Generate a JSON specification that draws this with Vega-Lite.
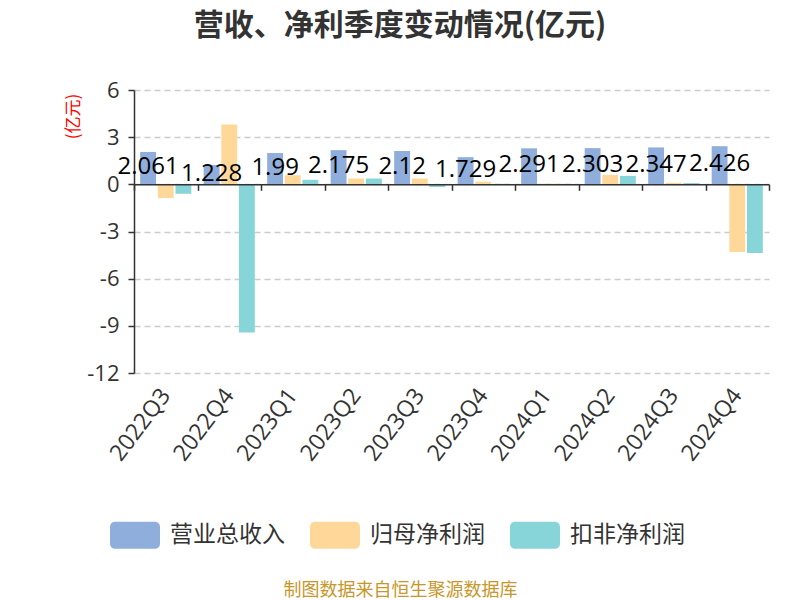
{
  "$schema": "https://vega.github.io/schema/vega-lite/v6.json",
  "width": 635,
  "height": 283,
  "autosize": {"type": "none"},
  "padding": {"left": 134, "top": 90, "right": 31, "bottom": 227},
  "background": "white",
  "config": {"view": {"stroke": null}},
  "title": {
    "text": "营收、净利季度变动情况(亿元)",
    "font": "Noto Sans CJK SC",
    "fontSize": 30,
    "fontWeight": "bold",
    "color": "#333333",
    "anchor": "middle",
    "frame": "group",
    "dx": -51.5,
    "offset": 38
  },
  "data": {
    "values": [
      {"quarter": "2022Q3", "series": "营业总收入", "value": 2.061},
      {"quarter": "2022Q4", "series": "营业总收入", "value": 1.228},
      {"quarter": "2023Q1", "series": "营业总收入", "value": 1.99},
      {"quarter": "2023Q2", "series": "营业总收入", "value": 2.175},
      {"quarter": "2023Q3", "series": "营业总收入", "value": 2.12},
      {"quarter": "2023Q4", "series": "营业总收入", "value": 1.729},
      {"quarter": "2024Q1", "series": "营业总收入", "value": 2.291},
      {"quarter": "2024Q2", "series": "营业总收入", "value": 2.303},
      {"quarter": "2024Q3", "series": "营业总收入", "value": 2.347},
      {"quarter": "2024Q4", "series": "营业总收入", "value": 2.426},
      {"quarter": "2022Q3", "series": "归母净利润", "value": -0.87},
      {"quarter": "2022Q4", "series": "归母净利润", "value": 3.81},
      {"quarter": "2023Q1", "series": "归母净利润", "value": 0.58},
      {"quarter": "2023Q2", "series": "归母净利润", "value": 0.37},
      {"quarter": "2023Q3", "series": "归母净利润", "value": 0.37},
      {"quarter": "2023Q4", "series": "归母净利润", "value": 0.17},
      {"quarter": "2024Q1", "series": "归母净利润", "value": 0.04},
      {"quarter": "2024Q2", "series": "归母净利润", "value": 0.6},
      {"quarter": "2024Q3", "series": "归母净利润", "value": 0.1},
      {"quarter": "2024Q4", "series": "归母净利润", "value": -4.31},
      {"quarter": "2022Q3", "series": "扣非净利润", "value": -0.6},
      {"quarter": "2022Q4", "series": "扣非净利润", "value": -9.42},
      {"quarter": "2023Q1", "series": "扣非净利润", "value": 0.29},
      {"quarter": "2023Q2", "series": "扣非净利润", "value": 0.37},
      {"quarter": "2023Q3", "series": "扣非净利润", "value": -0.17},
      {"quarter": "2023Q4", "series": "扣非净利润", "value": 0.03},
      {"quarter": "2024Q1", "series": "扣非净利润", "value": 0.03},
      {"quarter": "2024Q2", "series": "扣非净利润", "value": 0.54},
      {"quarter": "2024Q3", "series": "扣非净利润", "value": 0.08},
      {"quarter": "2024Q4", "series": "扣非净利润", "value": -4.37}
    ]
  },
  "resolve": {"scale": {"x": "shared", "y": "shared", "xOffset": "shared"}, "axis": {"x": "independent", "y": "independent"}},
  "layer": [
    {
      "mark": {"type": "bar"},
      "encoding": {
        "x": {
          "field": "quarter",
          "type": "nominal",
          "sort": null,
          "scale": {"paddingInner": 0, "paddingOuter": 0},
          "axis": {
            "orient": "bottom",
            "domain": false,
            "ticks": false,
            "grid": false,
            "labelAngle": -53,
            "labelFont": "Open Sans",
            "labelFontSize": 23,
            "labelColor": "#333333",
            "labelPadding": 18,
            "title": "制图数据来自恒生聚源数据库",
            "titleFont": "Noto Sans CJK SC",
            "titleFontSize": 18,
            "titleFontWeight": "normal",
            "titleColor": "#c8962a",
            "titleX": 266,
            "titleY": 217,
            "titleAlign": "center",
            "titleBaseline": "middle"
          }
        },
        "xOffset": {
          "field": "series",
          "type": "nominal",
          "scale": {"domain": ["营业总收入", "归母净利润", "扣非净利润"], "paddingInner": 0.1, "paddingOuter": 0.35}
        },
        "y": {
          "field": "value",
          "type": "quantitative",
          "scale": {"domain": [-12, 6], "nice": false, "zero": false},
          "axis": {
            "values": [-12, -9, -6, -3, 0, 3, 6],
            "labelExpr": "datum.value + ''",
            "domainColor": "#333333",
            "domainWidth": 1.5,
            "tickColor": "#333333",
            "tickSize": 6,
            "tickWidth": 1.5,
            "labelFont": "Open Sans",
            "labelFontSize": 22,
            "labelColor": "#333333",
            "labelPadding": 9,
            "grid": true,
            "gridColor": "#cccccc",
            "gridDash": [6, 4],
            "gridWidth": 1.5,
            "title": "(亿元)",
            "titleFont": "Noto Sans CJK SC",
            "titleFontSize": 17,
            "titleFontWeight": "normal",
            "titleColor": "#ff0000",
            "titleX": -61,
            "titleY": 26,
            "titleAngle": 270,
            "titleAlign": "center",
            "titleBaseline": "middle"
          }
        },
        "color": {
          "field": "series",
          "type": "nominal",
          "scale": {"domain": ["营业总收入", "归母净利润", "扣非净利润"], "range": ["#8faedb", "#ffd899", "#88d5d9"]},
          "legend": {
            "title": null,
            "orient": "none",
            "legendX": -24,
            "legendY": 420,
            "direction": "horizontal",
            "padding": 0,
            "symbolType": "M-0.8,-0.54H0.8A0.2,0.2 0 0 1 1,-0.34V0.34A0.2,0.2 0 0 1 0.8,0.54H-0.8A0.2,0.2 0 0 1 -1,0.34V-0.34A0.2,0.2 0 0 1 -0.8,-0.54Z",
            "symbolSize": 2500,
            "symbolStrokeWidth": 0,
            "symbolOpacity": 1,
            "labelFont": "Noto Sans CJK SC",
            "labelFontSize": 23,
            "labelColor": "#333333",
            "labelOffset": 10,
            "columnPadding": 25
          }
        }
      }
    },
    {
      "transform": [
        {"filter": "datum.series === '营业总收入'"},
        {"calculate": "datum.value / 2", "as": "mid"}
      ],
      "mark": {"type": "text", "font": "Open Sans", "fontSize": 24, "color": "#000000", "baseline": "middle", "align": "center", "dy": -1},
      "encoding": {
        "x": {
          "field": "quarter",
          "type": "nominal",
          "sort": null,
          "axis": {
            "orient": "bottom",
            "offset": -188.67,
            "domain": true,
            "domainColor": "#333333",
            "domainWidth": 1.5,
            "ticks": true,
            "tickBand": "extent",
            "tickColor": "#333333",
            "tickSize": 6,
            "tickWidth": 1.5,
            "labels": false,
            "grid": false,
            "title": null,
            "zindex": 1
          }
        },
        "xOffset": {"field": "series", "type": "nominal"},
        "y": {"field": "mid", "type": "quantitative", "axis": null},
        "text": {"field": "value", "type": "nominal"}
      }
    }
  ]
}
